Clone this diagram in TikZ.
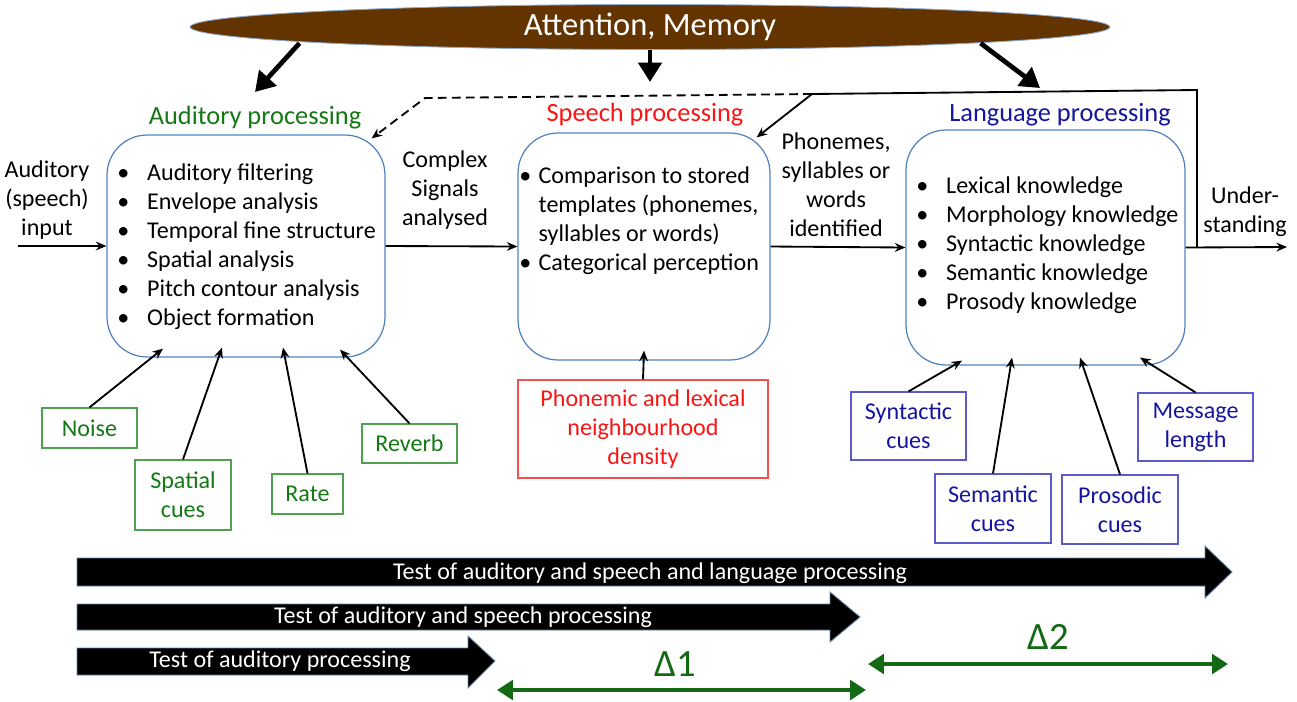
\documentclass[tikz,border=0pt]{standalone}
\usepackage{fontspec}
\setmainfont{Carlito}
\usetikzlibrary{arrows.meta,shapes.geometric}

\definecolor{membrown}{RGB}{99,51,0}
\definecolor{memedge}{RGB}{140,170,210}
\definecolor{boxblue}{RGB}{80,130,190}
\definecolor{audgreen}{RGB}{20,120,20}
\definecolor{cuegreen}{RGB}{80,160,80}
\definecolor{spred}{RGB}{250,20,20}
\definecolor{redframe}{RGB}{245,80,80}
\definecolor{langblue}{RGB}{20,20,160}
\definecolor{blueframe}{RGB}{90,90,200}
\definecolor{deltagreen}{RGB}{20,105,20}
\definecolor{barblue}{RGB}{100,130,170}

\newcommand{\bul}[1]{\makebox[#1][l]{\textbullet}}

\begin{document}
\begin{tikzpicture}[x=0.02cm,y=-0.02cm,
  every node/.style={font=\fontsize{13.7}{16.5}\selectfont},
  procbox/.style={draw=boxblue, line width=0.7pt, rounded corners=0.8cm, inner sep=0pt},
  arr/.style={-{Stealth[length=6pt,width=5pt]}, line width=1.05pt},
  bigarr/.style={-{Triangle[length=11pt,width=13pt]}, line width=2.7pt},
  cuebox/.style={draw, line width=0.7pt, align=center, inner sep=0pt},
  deltaarr/.style={{Triangle[length=9pt,width=11pt]}-{Triangle[length=9pt,width=11pt]}, line width=2.4pt, draw=deltagreen},
  testbar/.style={fill=black, draw=barblue, line width=0.5pt}]
  \useasboundingbox (0,0) rectangle (1297,701);

  % Attention, Memory (top)
  \node[ellipse, fill=membrown, draw=memedge, line width=0.5pt, inner sep=0pt,
        minimum width=18.4cm, minimum height=0.9cm] (mem) at (650,27) {};
  \node[text=white, font=\fontsize{18.5}{22}\selectfont] (memtxt) at (650,27) {Attention, Memory};
  \coordinate (toaud) at (255,92);
  \coordinate (tospe) at (650,82);
  \coordinate (tolang) at (1040,88);
  \draw[bigarr] ([shift={(-25,0)}]mem.south west) -- (toaud);
  \draw[bigarr] (mem.south) -- (tospe);
  \draw[bigarr] ([shift={(5,0)}]mem.south east) -- (tolang);

  % Auditory processing (left)
  \node[procbox, minimum width=5.56cm, minimum height=4.44cm] (aud) at (246,246) {};
  \node[text=audgreen, font=\fontsize{15}{18}\selectfont] (audtitle) at (255,118) {Auditory processing};
  \node[anchor=north west, align=left, inner sep=0pt] (audlist) at (117,163)
    {\bul{17pt}Auditory filtering\\ \bul{17pt}Envelope analysis\\ \bul{17pt}Temporal fine structure\\
     \bul{17pt}Spatial analysis\\ \bul{17pt}Pitch contour analysis\\ \bul{17pt}Object formation};

  % Speech processing (middle)
  \node[procbox, minimum width=5.04cm, minimum height=4.54cm] (spe) at (644,246.5) {};
  \node[text=spred, font=\fontsize{15}{18}\selectfont] (spetitle) at (645,115) {Speech processing};
  \node[anchor=north west, align=left, inner sep=0pt] (spelist) at (519,166)
    {\bul{11pt}Comparison to stored\\ \hspace*{11pt}templates (phonemes,\\ \hspace*{11pt}syllables or words)\\
     \bul{11pt}Categorical perception};

  % Language processing (right)
  \node[procbox, minimum width=5.58cm, minimum height=4.7cm] (lang) at (1045.5,247.5) {};
  \node[text=langblue, font=\fontsize{15}{18}\selectfont] (langtitle) at (1060,115) {Language processing};
  \node[anchor=north west, align=left, inner sep=0pt] (langlist) at (916,176)
    {\bul{17pt}Lexical knowledge\\ \bul{17pt}Morphology knowledge\\ \bul{17pt}Syntactic knowledge\\
     \bul{17pt}Semantic knowledge\\ \bul{17pt}Prosody knowledge};

  % Flow through the stages
  \coordinate (inpt) at (18,246);
  \coordinate (outpt) at (1287,247);
  \node[align=center] (inlbl) at (47,200) {Auditory\\(speech)\\input};
  \node[align=center] (cslbl) at (445,190) {Complex\\Signals\\analysed};
  \node[align=center] (phlbl) at (836,185) {Phonemes,\\syllables or\\words\\identified};
  \node[align=center] (outlbl) at (1245,212) {Under-\\standing};
  \draw[arr] (inpt) -- (aud.west);
  \draw[arr] (aud.east) -- (spe.west);
  \draw[arr] (spe.east) -- (lang.west);
  \draw[arr] (lang.east) -- (outpt);

  % Feedback from understanding
  \coordinate (fbbot) at (1197,247);
  \coordinate (fbtop) at (1197,90);
  \coordinate (fbsplit) at (812,94);
  \coordinate (fbdash) at (425,98);
  \draw[line width=1.05pt] (fbbot) -- (fbtop) -- (fbsplit);
  \draw[arr] (fbsplit) -- ([shift={(-14,5)}]spe.north east);
  \draw[arr, dash pattern=on 5pt off 3pt] (fbsplit) -- (fbdash) -- ([shift={(-14,4)}]aud.north east);

  % Cues for auditory processing
  \node[cuebox, draw=cuegreen, text=audgreen, minimum width=1.9cm, minimum height=0.8cm] (noise) at (89.5,428) {Noise};
  \node[cuebox, draw=cuegreen, text=audgreen, minimum width=1.92cm, minimum height=1.4cm] (spat) at (183,495) {Spatial\\cues};
  \node[cuebox, draw=cuegreen, text=audgreen, minimum width=1.42cm, minimum height=0.8cm] (rate) at (307.5,494) {Rate};
  \node[cuebox, draw=cuegreen, text=audgreen, minimum width=1.9cm, minimum height=0.78cm] (reverb) at (409.5,443.5) {Reverb};
  \draw[arr] (noise.north) -- ([shift={(-83,-9)}]aud.south);
  \draw[arr] (spat.north) -- ([shift={(-24,-10)}]aud.south);
  \draw[arr] (rate.north) -- ([shift={(37,-10)}]aud.south);
  \draw[arr] (reverb.north) -- ([shift={(94,-8)}]aud.south);

  % Neighbourhood density for speech processing
  \node[cuebox, draw=redframe, text=spred, minimum width=5cm, minimum height=1.96cm,
        font=\fontsize{13.7}{16.7}\selectfont] (dens) at (643,429) {Phonemic and lexical\\neighbourhood\\density};
  \draw[arr] (dens.north) -- ([shift={(0,-10)}]spe.south);

  % Cues for language processing
  \node[cuebox, draw=blueframe, text=langblue, minimum width=2.3cm, minimum height=1.36cm] (syn) at (908.5,426) {Syntactic\\cues};
  \node[cuebox, draw=blueframe, text=langblue, minimum width=2.32cm, minimum height=1.38cm] (sem) at (993,508.5) {Semantic\\cues};
  \node[cuebox, draw=blueframe, text=langblue, minimum width=2.32cm, minimum height=1.38cm] (pros) at (1120,509.5) {Prosodic\\cues};
  \node[cuebox, draw=blueframe, text=langblue, minimum width=2.3cm, minimum height=1.36cm] (msg) at (1195.5,427) {Message\\length};
  \draw[arr] (syn.north) -- ([shift={(-83.5,-5)}]lang.south);
  \draw[arr] (sem.north) -- ([shift={(-33.5,-8)}]lang.south);
  \draw[arr] (pros.north) -- ([shift={(34.5,-8)}]lang.south);
  \draw[arr] (msg.north) -- ([shift={(94.5,-8)}]lang.south);

  % Tests (bottom)
  \path[testbar] (77,558) -- (1205,558) -- (1205,546) -- (1232,572) -- (1205,598) -- (1205,586) -- (77,586) -- cycle;
  \node[text=white] (testall) at (650,573) {Test of auditory and speech and language processing};
  \path[testbar] (77,604) -- (830,604) -- (830,592) -- (860,617) -- (830,642) -- (830,630) -- (77,630) -- cycle;
  \node[text=white] (testsp) at (463,617) {Test of auditory and speech processing};
  \path[testbar] (77,648) -- (468,648) -- (468,636) -- (495,661) -- (468,688) -- (468,675) -- (77,675) -- cycle;
  \node[text=white] (testaud) at (280,661) {Test of auditory processing};

  % Differences
  \coordinate (d1l) at (497,690);
  \coordinate (d1r) at (866,690);
  \coordinate (d2l) at (868,664);
  \coordinate (d2r) at (1228,664);
  \draw[deltaarr] (d1l) -- (d1r);
  \draw[deltaarr] (d2l) -- (d2r);
  \node[text=deltagreen, font=\fontsize{22}{26}\selectfont] (d1) at (675,664) {Δ1};
  \node[text=deltagreen, font=\fontsize{22}{26}\selectfont] (d2) at (1048,637) {Δ2};
\end{tikzpicture}
\end{document}
